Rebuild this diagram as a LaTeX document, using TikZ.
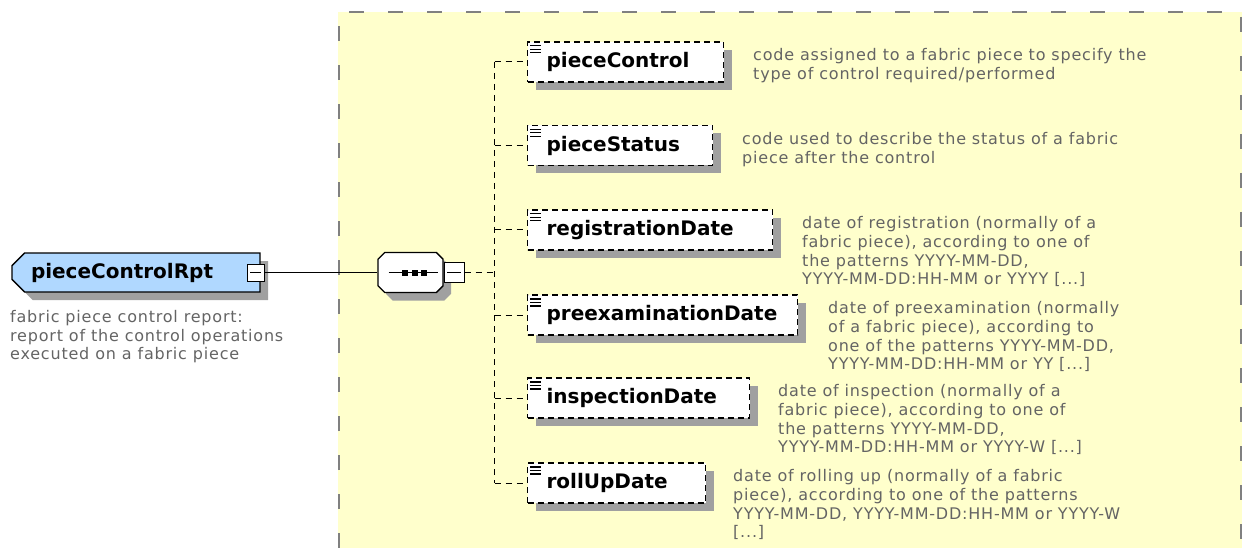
\documentclass[tikz,border=0pt]{standalone}
\usepackage{fontspec}
\setmainfont{DejaVu Sans}
\newfontfamily\descfont[LetterSpace=5]{DejaVu Sans}
\usetikzlibrary{shapes.misc,shadows}
\definecolor{panelfill}{RGB}{255,255,204}
\definecolor{panelline}{RGB}{128,128,128}
\definecolor{rootfill}{RGB}{176,216,255}
\definecolor{shadowgray}{RGB}{160,160,160}
\definecolor{desctext}{RGB}{100,100,100}
\begin{document}
\begin{tikzpicture}[x=1pt,y=-1pt,
  boxshadow/.style={drop shadow={shadow xshift=8pt,shadow yshift=-8pt,fill=shadowgray,opacity=1}},
  rootbox/.style={chamfered rectangle,chamfered rectangle corners={north west,south west},
    chamfered rectangle xsep=9pt,draw,line width=1.3pt,fill=rootfill,boxshadow,
    minimum width=248pt,minimum height=39pt,text width=210pt,align=left,
    font=\fontsize{20}{23}\selectfont\bfseries},
  seqbox/.style={chamfered rectangle,chamfered rectangle xsep=9pt,draw,line width=1.3pt,
    fill=white,boxshadow,minimum width=65pt,minimum height=40pt},
  elem/.style={draw,line width=1.2pt,dash pattern=on 6pt off 4pt,fill=white,boxshadow,
    minimum height=40pt,inner xsep=19pt,align=left,anchor=west,
    font=\fontsize{20}{23}\selectfont\bfseries},
  desc/.style={anchor=north west,inner sep=0pt,align=left,text=desctext,
    font=\descfont\fontsize{16}{18.7}\selectfont},
  minusbox/.style={draw,fill=white,line width=1pt,inner sep=0pt,
    path picture={\draw[line width=1pt] ([xshift=3pt]path picture bounding box.west)
      -- ([xshift=-3pt]path picture bounding box.east);}},
  conn/.style={line width=1pt,dash pattern=on 6pt off 5pt}]
\useasboundingbox (0,0) rectangle (1242,548);
% yellow panel
\fill[panelfill] (338,12) rectangle (1242,548);
\draw[panelline,line width=2pt,dash pattern=on 15pt off 24pt] (339,548) -- (339,12) -- (1241,12) -- (1241,548);
% root element
\node[rootbox] (pieceControlRpt) at (136,272.5) {pieceControlRpt};
\node[desc] (rootDesc) at (10,310) {fabric piece control report:\\report of the control operations\\executed on a fabric piece};
\node[minusbox,minimum size=17pt] (rootMinus) at (255.5,272.5) {};
% sequence
\node[seqbox] (sequence) at (410.5,272.5) {};
\node[minusbox,minimum size=20pt,anchor=west] (seqMinus) at (sequence.east) {};
\draw[line width=1pt] (rootMinus.east) -- (sequence.west);
\draw[line width=1pt] ([xshift=-22pt]sequence.center) -- ([xshift=27pt]sequence.center);
\foreach \dd in {-6,4,13} \fill ([xshift=\dd pt]sequence.center) ++(-3pt,-3pt) rectangle ++(6pt,6pt);
\coordinate (bus) at ([xshift=30pt]seqMinus.east);
\draw[conn] (seqMinus.east) -- (bus);
% child elements
\foreach \nm/\bw/\cy/\dx/\txt in {
  pieceControl/196/62/753/{code assigned to a fabric piece to specify the\\type of control required/performed},
  pieceStatus/185/145.5/742/{code used to describe the status of a fabric\\piece after the control},
  registrationDate/245/230/802/{date of registration (normally of a\\fabric piece), according to one of\\the patterns YYYY-MM-DD,\\YYYY-MM-DD:HH-MM or YYYY [...]},
  preexaminationDate/270/315/828/{date of preexamination (normally\\of a fabric piece), according to\\one of the patterns YYYY-MM-DD,\\YYYY-MM-DD:HH-MM or YY [...]},
  inspectionDate/222/398/778/{date of inspection (normally of a\\fabric piece), according to one of\\the patterns YYYY-MM-DD,\\YYYY-MM-DD:HH-MM or YYYY-W [...]},
  rollUpDate/178/483/733/{date of rolling up (normally of a fabric\\piece), according to one of the patterns\\YYYY-MM-DD, YYYY-MM-DD:HH-MM or YYYY-W\\{[...]}}}{
  \pgfmathsetmacro{\tw}{\bw-38}
  \node[elem,text width=\tw pt] (\nm) at (527,\cy) {\nm};
  \foreach \k in {4.5,8,11.5} \draw[line width=1.2pt] ([shift={(3,\k)}]\nm.north west) -- ++(11,0);
  \node[desc] (\nm Desc) at (\dx,\cy-13.5) {\txt};
  \draw[conn] (bus |- \nm.west) -- (\nm.west);
}
\draw[conn] (bus |- pieceControl.west) -- (bus |- rollUpDate.west);
\end{tikzpicture}
\end{document}
